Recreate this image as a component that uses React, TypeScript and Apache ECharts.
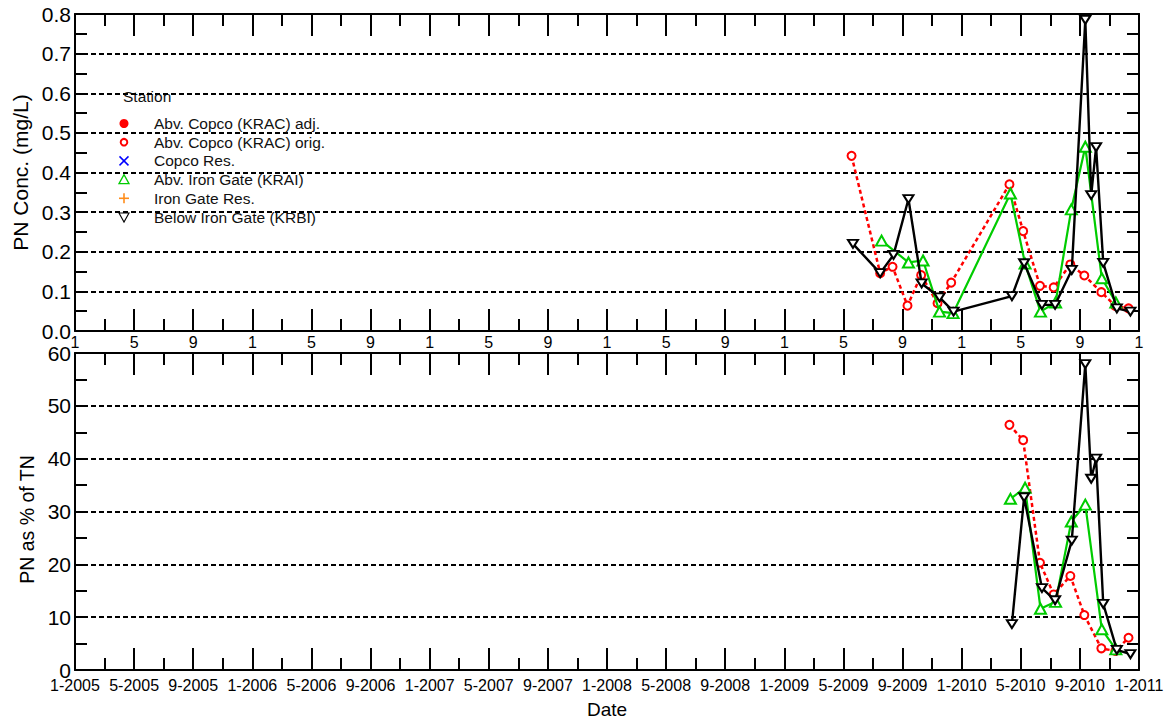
import React, { useEffect, useRef } from "react";
import * as echarts from "echarts";

// Particulate nitrogen, Klamath River stations, 2009-2010

// Top panel: PN concentration (mg/L)
const kracOrigConcDates = [
  "2009-05-18", "2009-07-16", "2009-08-11", "2009-09-11", "2009-10-09", "2009-11-12",
  "2009-12-10", "2010-04-08", "2010-05-06", "2010-06-10", "2010-07-08", "2010-08-12",
  "2010-09-10", "2010-10-15", "2010-11-13", "2010-12-10",
];
const kracOrigConc = [
  0.442, 0.146, 0.162, 0.064, 0.141, 0.07, 0.122, 0.37, 0.252, 0.114, 0.11, 0.168,
  0.14, 0.098, 0.063, 0.057,
];

const kraiConcDates = [
  "2009-07-19", "2009-09-13", "2009-10-13", "2009-11-16", "2009-12-14", "2010-04-10",
  "2010-05-10", "2010-06-11", "2010-07-12", "2010-08-14", "2010-09-12", "2010-10-16",
  "2010-11-14",
];
const kraiConc = [
  0.228, 0.173, 0.178, 0.049, 0.045, 0.347, 0.17, 0.049, 0.072, 0.307, 0.465, 0.133, 0.072,
];

const krbiConcDates = [
  "2009-05-21", "2009-07-16", "2009-08-13", "2009-09-13", "2009-10-10", "2009-11-16",
  "2009-12-15", "2010-04-13", "2010-05-08", "2010-06-14", "2010-07-11", "2010-08-15",
  "2010-09-12", "2010-09-24", "2010-10-04", "2010-10-19", "2010-11-16", "2010-12-14",
];
const krbiConc = [
  0.22, 0.146, 0.192, 0.333, 0.12, 0.085, 0.049, 0.088, 0.171, 0.066, 0.066, 0.154,
  0.785, 0.343, 0.464, 0.172, 0.057, 0.049,
];

// Bottom panel: PN as % of TN
const kracOrigPctDates = [
  "2010-04-08", "2010-05-06", "2010-06-10", "2010-07-08", "2010-08-12", "2010-09-10",
  "2010-10-15", "2010-11-13", "2010-12-10",
];
const kracOrigPct = [46.4, 43.5, 20.3, 14.3, 17.8, 10.4, 4.1, 3.6, 6.1];

const kraiPctDates = [
  "2010-04-10", "2010-05-10", "2010-06-11", "2010-07-12", "2010-08-14", "2010-09-12",
  "2010-10-16", "2010-11-14",
];
const kraiPct = [32.4, 34.5, 11.6, 12.9, 28.1, 31.3, 7.7, 3.9];

const krbiPctDates = [
  "2010-04-13", "2010-05-08", "2010-06-14", "2010-07-11", "2010-08-15", "2010-09-12",
  "2010-09-24", "2010-10-04", "2010-10-19", "2010-11-16", "2010-12-14",
];
const krbiPct = [8.7, 32.7, 15.5, 13.2, 24.5, 57.9, 36.2, 40.0, 12.5, 3.8, 3.0];

const legendTitle = "Station";
const legendNames = [
  "Abv. Copco (KRAC) adj.",
  "Abv. Copco (KRAC) orig.",
  "Copco Res.",
  "Abv. Iron Gate (KRAI)",
  "Iron Gate Res.",
  "Below Iron Gate (KRBI)",
];

const START_YEAR = 2005;
const FONT = "'Liberation Sans', Arial, sans-serif";
const RED = "#ff0000";
const GREEN = "#00cc00";
const BLUE = "#0000ff";
const ORANGE = "#ff8c1a";

// months elapsed since Jan 2005 (fractional within the month)
function monthIndex(d: string): number {
  const [y, m, day] = d.split("-").map(Number);
  const dim = new Date(y, m, 0).getDate();
  return (y - START_YEAR) * 12 + (m - 1) + (day - 1) / dim;
}

function pairs(dates: string[], vals: number[]) {
  return dates.map((d, i) => [monthIndex(d), vals[i]]);
}

const axisLineStyle = { lineStyle: { color: "#000", width: 2 } };

function xAxis(gridIndex: number, position: "top" | "bottom", labels: "none" | "month" | "full") {
  return {
    type: "value",
    gridIndex,
    position,
    min: 0,
    max: 72,
    interval: 4,
    axisLine: { show: true, onZero: false, ...axisLineStyle },
    axisTick: { show: true, inside: true, length: 22, lineStyle: { color: "#000", width: 2 } },
    minorTick: { show: true, splitNumber: 2, length: 12, lineStyle: { color: "#000", width: 2 } },
    splitLine: { show: false },
    axisLabel: {
      show: labels !== "none",
      color: "#000",
      fontFamily: FONT,
      fontSize: 16,
      margin: labels === "month" ? 3 : 7,
      formatter: (v: number) => {
        const mo = (Math.round(v) % 12) + 1;
        const yr = START_YEAR + Math.floor(Math.round(v) / 12);
        return labels === "month" ? `${mo}` : `${mo}-${yr}`;
      },
    },
  };
}

function yAxis(
  gridIndex: number,
  position: "left" | "right",
  max: number,
  interval: number,
  digits: number,
  name?: string,
  nameGap?: number,
  nameSize = 21,
  namePadding: number[] = [0, 0, 0, 0]
) {
  const left = position === "left";
  return {
    type: "value",
    gridIndex,
    position,
    min: 0,
    max,
    interval,
    name: left ? name : undefined,
    nameLocation: "middle",
    nameGap,
    nameTextStyle: { color: "#000", fontFamily: FONT, fontSize: nameSize, padding: namePadding },
    axisLine: { show: true, onZero: false, ...axisLineStyle },
    axisTick: { show: true, inside: true, length: 12, lineStyle: { color: "#000", width: 2 } },
    minorTick: { show: true, splitNumber: 2, length: 12, lineStyle: { color: "#000", width: 2 } },
    splitLine: left
      ? { show: true, lineStyle: { color: "#000", width: 2, type: [5, 3] } }
      : { show: false },
    axisLabel: {
      show: left,
      color: "#000",
      fontFamily: FONT,
      fontSize: 21,
      margin: 4,
      formatter: (v: number) => v.toFixed(digits),
    },
  };
}

function redSeries(data: number[][], xi: number, yi: number) {
  return {
    type: "line",
    name: legendNames[1],
    xAxisIndex: xi,
    yAxisIndex: yi,
    data,
    symbol: "emptyCircle",
    symbolSize: 8,
    z: 2,
    itemStyle: { color: RED, borderColor: RED, borderWidth: 2 },
    lineStyle: { color: RED, width: 2.5, type: [4, 3] },
  };
}

function greenSeries(data: number[][], xi: number, yi: number) {
  return {
    type: "line",
    name: legendNames[3],
    xAxisIndex: xi,
    yAxisIndex: yi,
    data,
    symbol: "emptyTriangle",
    symbolSize: [11, 10],
    z: 3,
    itemStyle: { color: GREEN, borderColor: GREEN, borderWidth: 1.2 },
    lineStyle: { color: GREEN, width: 2.2 },
  };
}

function blackSeries(data: number[][], xi: number, yi: number) {
  return {
    type: "line",
    name: legendNames[5],
    xAxisIndex: xi,
    yAxisIndex: yi,
    data,
    symbol: "emptyTriangle",
    symbolRotate: 180,
    symbolSize: [10, 8],
    z: 4,
    itemStyle: { color: "#000", borderColor: "#000", borderWidth: 1 },
    lineStyle: { color: "#000", width: 2.4 },
  };
}

function legendGraphics() {
  const x0 = 124;
  const tx = 154;
  const y0 = 123.5;
  const dy = 18.7;
  const font = `15.5px ${FONT}`;
  const els: any[] = [
    {
      type: "text",
      left: 123,
      top: 88,
      style: { text: legendTitle, fill: "#111", font },
    },
  ];
  legendNames.forEach((name, i) => {
    const y = y0 + i * dy;
    els.push({
      type: "text",
      x: tx,
      y,
      style: { text: name, fill: "#111", font, verticalAlign: "middle" },
    });
  });
  const ys = legendNames.map((_, i) => y0 + i * dy);
  els.push({ type: "circle", shape: { cx: x0, cy: ys[0], r: 4.5 }, style: { fill: RED } });
  els.push({
    type: "circle",
    shape: { cx: x0, cy: ys[1], r: 3.3 },
    style: { fill: "#fff", stroke: RED, lineWidth: 2 },
  });
  els.push({
    type: "line",
    shape: { x1: x0 - 4.5, y1: ys[2] - 4.5, x2: x0 + 4.5, y2: ys[2] + 4.5 },
    style: { stroke: BLUE, lineWidth: 1.5 },
  });
  els.push({
    type: "line",
    shape: { x1: x0 - 4.5, y1: ys[2] + 4.5, x2: x0 + 4.5, y2: ys[2] - 4.5 },
    style: { stroke: BLUE, lineWidth: 1.5 },
  });
  els.push({
    type: "polygon",
    shape: { points: [[x0, ys[3] - 5], [x0 - 5, ys[3] + 4], [x0 + 5, ys[3] + 4]] },
    style: { fill: "#fff", stroke: GREEN, lineWidth: 1.3 },
  });
  els.push({
    type: "line",
    shape: { x1: x0 - 5, y1: ys[4], x2: x0 + 5, y2: ys[4] },
    style: { stroke: ORANGE, lineWidth: 1.6 },
  });
  els.push({
    type: "line",
    shape: { x1: x0, y1: ys[4] - 5, x2: x0, y2: ys[4] + 5 },
    style: { stroke: ORANGE, lineWidth: 1.6 },
  });
  els.push({
    type: "polygon",
    shape: { points: [[x0 - 5, ys[5] - 4], [x0 + 5, ys[5] - 4], [x0, ys[5] + 5]] },
    style: { fill: "#fff", stroke: "#000", lineWidth: 1.1 },
  });
  return els;
}

export default function App() {
  const ref = useRef<HTMLDivElement>(null);

  useEffect(() => {
    if (!ref.current) return;
    const chart = echarts.init(ref.current, undefined, { renderer: "svg" });
    chart.setOption({
      animation: false,
      backgroundColor: "#fff",
      textStyle: { fontFamily: FONT },
      grid: [
        { left: 75, top: 14, width: 1064, height: 317 },
        { left: 75, top: 353, width: 1064, height: 317 },
      ],
      xAxis: [
        xAxis(0, "bottom", "none"),
        xAxis(0, "top", "none"),
        {
          ...xAxis(1, "bottom", "full"),
          name: "Date",
          nameLocation: "middle",
          nameGap: 30,
          nameTextStyle: { color: "#000", fontFamily: FONT, fontSize: 19 },
        },
        xAxis(1, "top", "month"),
      ],
      yAxis: [
        yAxis(0, "left", 0.8, 0.1, 1, "PN Conc. (mg/L)", 41),
        yAxis(0, "right", 0.8, 0.1, 1),
        yAxis(1, "left", 60, 10, 0, "PN as % of TN", 38, 19.5, [0, 16, 0, 0]),
        yAxis(1, "right", 60, 10, 0),
      ],
      series: [
        redSeries(pairs(kracOrigConcDates, kracOrigConc), 0, 0),
        greenSeries(pairs(kraiConcDates, kraiConc), 0, 0),
        blackSeries(pairs(krbiConcDates, krbiConc), 0, 0),
        redSeries(pairs(kracOrigPctDates, kracOrigPct), 2, 2),
        greenSeries(pairs(kraiPctDates, kraiPct), 2, 2),
        blackSeries(pairs(krbiPctDates, krbiPct), 2, 2),
      ],
      graphic: legendGraphics(),
    });
    return () => chart.dispose();
  }, []);

  return (
    <div
      ref={ref}
      style={{ position: "absolute", left: 0, top: 0, width: 1168, height: 723, background: "#fff" }}
    />
  );
}
